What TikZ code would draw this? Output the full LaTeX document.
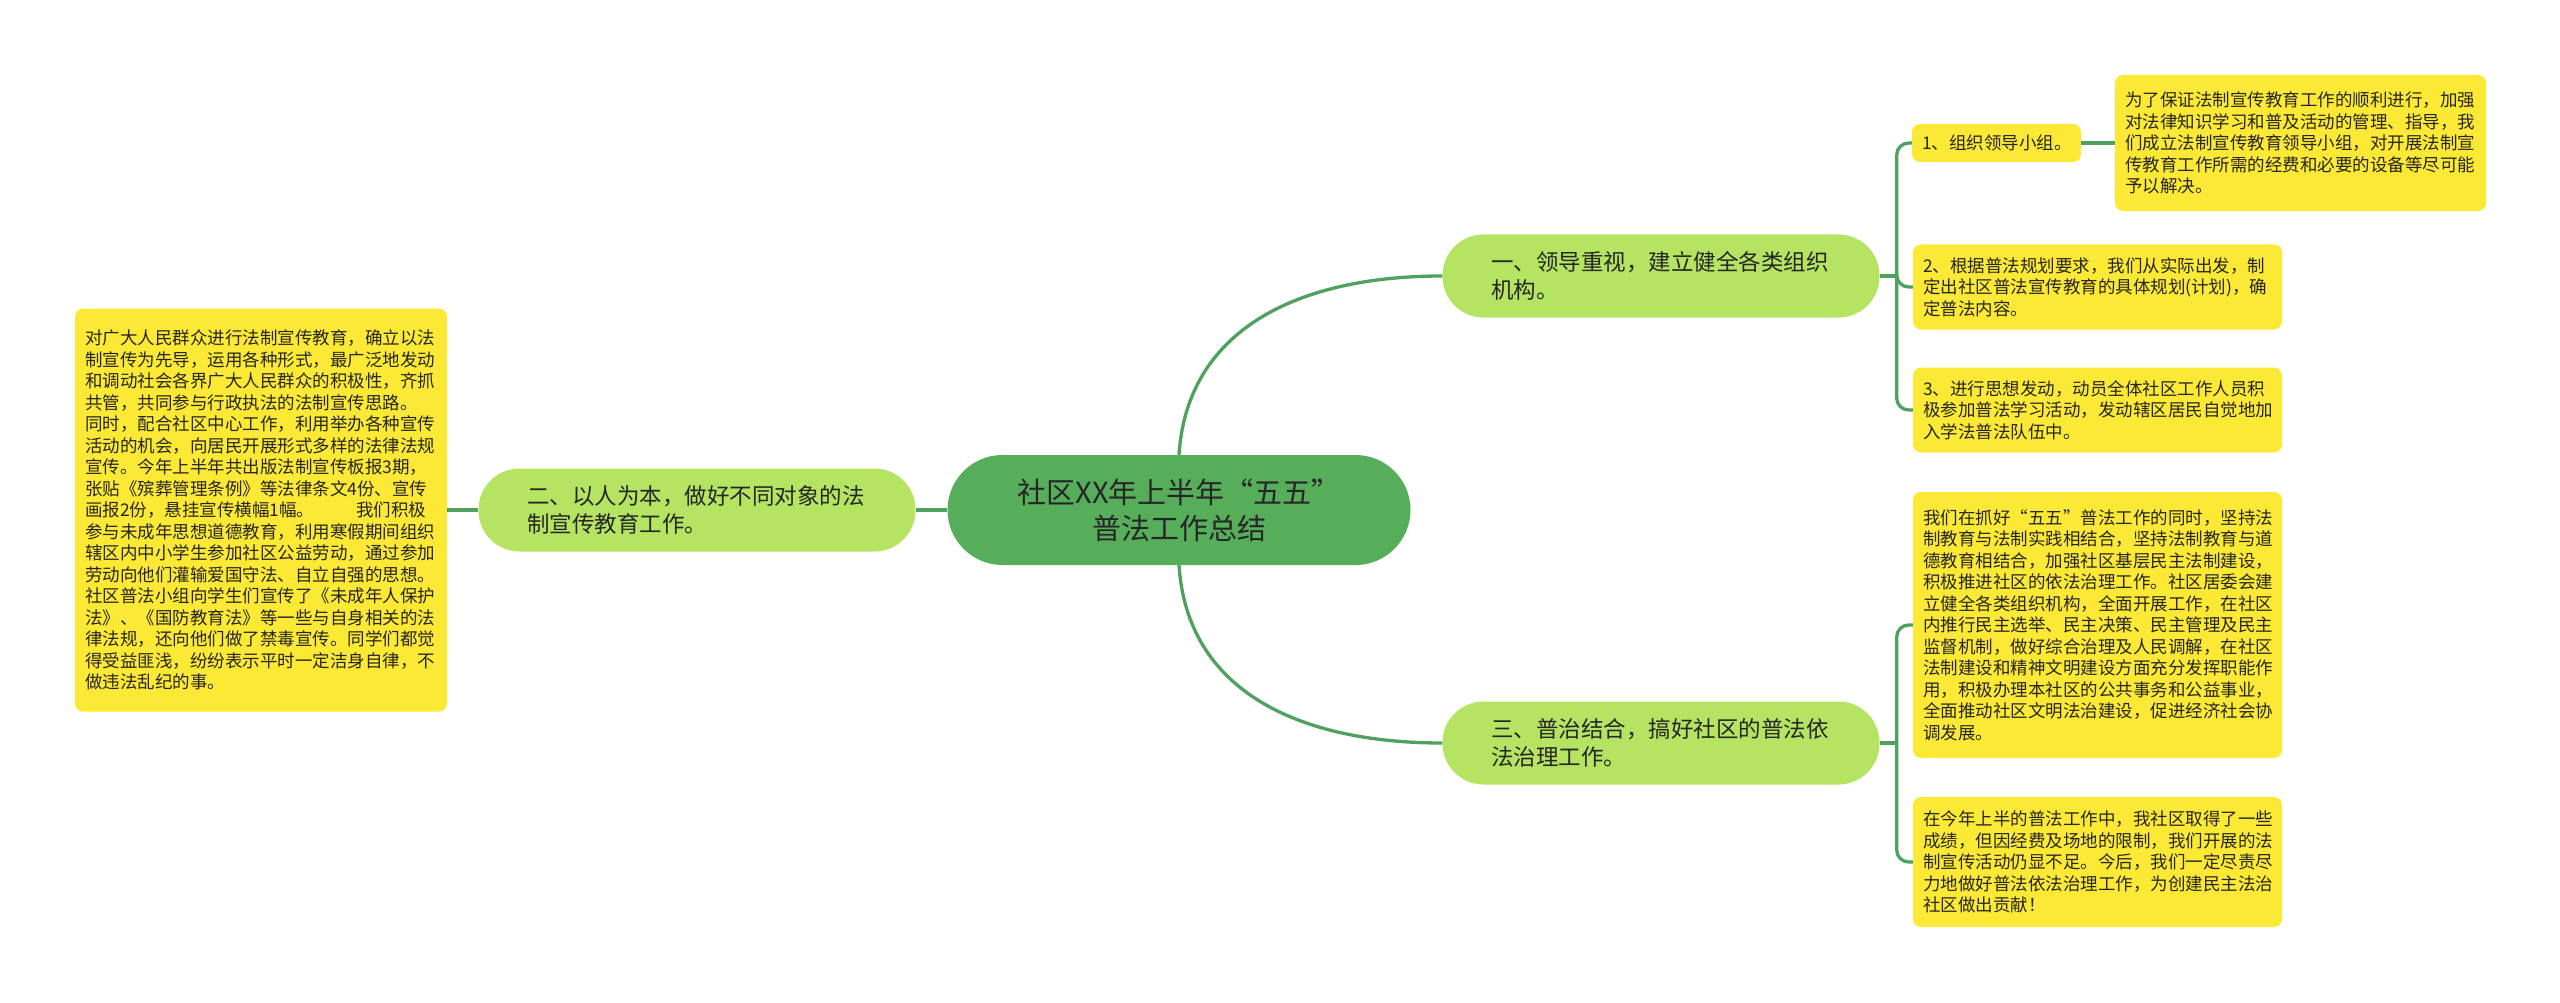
\documentclass[tikz,border=0pt]{standalone}
\usepackage{fontspec}
\setmainfont{Noto Sans CJK SC}
\usepackage{xcolor}
\usetikzlibrary{positioning, calc}

\definecolor{rootgreen}{HTML}{56AE5B}
\definecolor{branchgreen}{HTML}{B5E462}
\definecolor{leafyellow}{HTML}{FCE935}
\definecolor{linkgreen}{HTML}{4FA160}
\definecolor{darktext}{HTML}{262626}

\begin{document}
\begin{tikzpicture}[x=1pt, y=-1pt,
    link/.style={draw=linkgreen, line width=3.3pt},
    centre/.style={fill=rootgreen, text=darktext, rounded corners=55pt, minimum width=463pt,
        minimum height=110pt, inner sep=0pt, align=center, font=\fontsize{29}{36}\selectfont},
    branch/.style={fill=branchgreen, text=darktext, rounded corners=41pt, minimum height=83pt,
        text width=340pt, inner xsep=48.5pt, inner ysep=0pt, align=left,
        font=\fontsize{22.5}{28.5}\selectfont},
    leaf/.style={fill=leafyellow, text=darktext, rounded corners=8pt, inner xsep=10pt,
        inner ysep=0pt, align=left, font=\fontsize{17.5}{21.5}\selectfont}]

        \useasboundingbox[fill=white] (0,0) rectangle (2560,1003);

        % Root and the three themes
        \node[centre] (root) at (1179,510) {社区XX年上半年“五五”\\普法工作总结};
        \node[branch] (n1) at (1661,276) {一、领导重视，建立健全各类组织\\机构。};
        \node[branch] (n2) at (697,510) {二、以人为本，做好不同对象的法\\制宣传教育工作。};
        \node[branch] (n3) at (1661,743) {三、普治结合，搞好社区的普法依\\法治理工作。};

        % Left leaf
        \node[leaf, text width=352pt, minimum height=403pt] (l2a) at (261,510) {%
对广大人民群众进行法制宣传教育，确立以法\\
制宣传为先导，运用各种形式，最广泛地发动\\
和调动社会各界广大人民群众的积极性，齐抓\\
共管，共同参与行政执法的法制宣传思路。\\
同时，配合社区中心工作，利用举办各种宣传\\
活动的机会，向居民开展形式多样的法律法规\\
宣传。今年上半年共出版法制宣传板报3期，\\
张贴《殡葬管理条例》等法律条文4份、宣传\\
画报2份，悬挂宣传横幅1幅。\hspace{42pt}我们积极\\
参与未成年思想道德教育，利用寒假期间组织\\
辖区内中小学生参加社区公益劳动，通过参加\\
劳动向他们灌输爱国守法、自立自强的思想。\\
社区普法小组向学生们宣传了《未成年人保护\\
法》、《国防教育法》等一些与自身相关的法\\
律法规，还向他们做了禁毒宣传。同学们都觉\\
得受益匪浅，纷纷表示平时一定洁身自律，不\\
做违法乱纪的事。};

        % Leaves under theme one
        \node[leaf, text width=149pt, minimum height=38pt] (l11) at (1996.5,143) {1、组织领导小组。};
        \node[leaf, text width=351pt, minimum height=136pt] (l111) at (2300.5,143) {%
为了保证法制宣传教育工作的顺利进行，加强\\
对法律知识学习和普及活动的管理、指导，我\\
们成立法制宣传教育领导小组，对开展法制宣\\
传教育工作所需的经费和必要的设备等尽可能\\
予以解决。};
        \node[leaf, text width=349pt, minimum height=85pt] (l12) at (2097.5,287) {%
2、根据普法规划要求，我们从实际出发，制\\
定出社区普法宣传教育的具体规划(计划)，确\\
定普法内容。};
        \node[leaf, text width=349pt, minimum height=85pt] (l13) at (2097.5,410) {%
3、进行思想发动，动员全体社区工作人员积\\
极参加普法学习活动，发动辖区居民自觉地加\\
入学法普法队伍中。};

        % Leaves under theme three
        \node[leaf, text width=349pt, minimum height=266pt] (l31) at (2097.5,625) {%
我们在抓好“五五”普法工作的同时，坚持法\\
制教育与法制实践相结合，坚持法制教育与道\\
德教育相结合，加强社区基层民主法制建设，\\
积极推进社区的依法治理工作。社区居委会建\\
立健全各类组织机构，全面开展工作，在社区\\
内推行民主选举、民主决策、民主管理及民主\\
监督机制，做好综合治理及人民调解，在社区\\
法制建设和精神文明建设方面充分发挥职能作\\
用，积极办理本社区的公共事务和公益事业，\\
全面推动社区文明法治建设，促进经济社会协\\
调发展。};
        \node[leaf, text width=349pt, minimum height=130pt] (l32) at (2097.5,862) {%
在今年上半的普法工作中，我社区取得了一些\\
成绩，但因经费及场地的限制，我们开展的法\\
制宣传活动仍显不足。今后，我们一定尽责尽\\
力地做好普法依法治理工作，为创建民主法治\\
社区做出贡献！};

        % Connectors
        \draw[link] (root.west) -- (n2.east);
        \draw[link] (n2.west) -- (l2a.east);
        \draw[link] (root.north) .. controls +(8,-125) and +(-145,0) .. (n1.west);
        \draw[link] (root.south) .. controls +(8,125) and +(-145,0) .. (n3.west);

        \coordinate[right=17pt of n1] (j1);
        \coordinate[right=17pt of n3] (j3);
        \draw[link] (n1.east) -- (j1);
        \draw[link] (n3.east) -- (j3);
        \foreach \leafname in {l11,l12,l13}
            \draw[link, rounded corners=12pt] (j1) |- (\leafname.west);
        \foreach \leafname in {l31,l32}
            \draw[link, rounded corners=12pt] (j3) |- (\leafname.west);
        \draw[link] (l11.east) -- (l111.west);
\end{tikzpicture}
\end{document}
